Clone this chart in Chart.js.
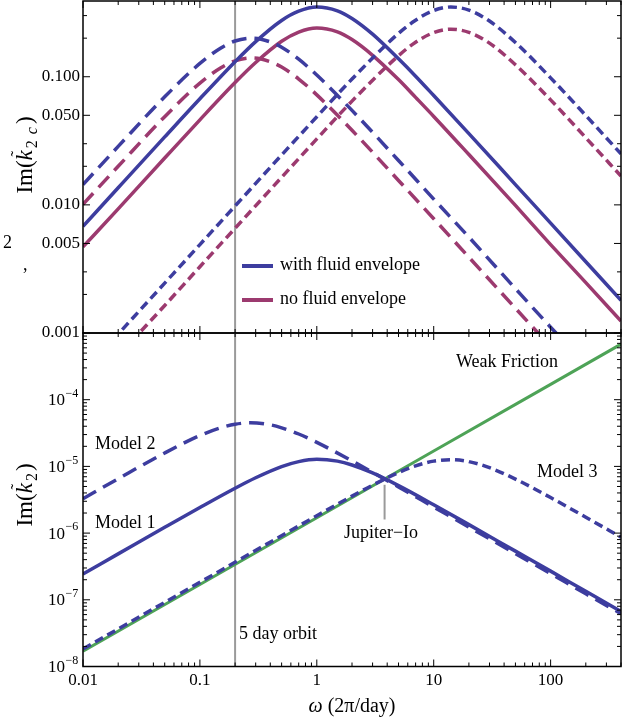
<!DOCTYPE html>
<html><head><meta charset="utf-8">
<script src="https://cdn.jsdelivr.net/npm/chart.js@4.4.1/dist/chart.umd.min.js"></script>
<style>
html,body{margin:0;padding:0;background:#fff;overflow:hidden}
#wrap{position:relative;width:624px;height:719px;background:#fff}
canvas{position:absolute;left:0;top:0}
</style></head><body>
<div id="wrap"><canvas id="cTop" width="624" height="719"></canvas><canvas id="cBot" width="624" height="719"></canvas></div>
<script>
// ---------- data ----------
// top panel: Im(k2c)
const omegaM1 = [0.01,0.02,0.05,0.1,0.2,0.3,0.5,0.7,1,1.5,2,3,5,7,10,20,50,100,200,400];
const topM1Fluid   = [0.0068,0.0136,0.0339,0.0673,0.131,0.188,0.275,0.325,0.350,0.327,0.285,0.215,0.138,0.101,0.0713,0.0360,0.0144,0.0072,0.0036,0.0018];
const topM1NoFluid = [0.0047,0.0093,0.0232,0.0461,0.090,0.129,0.189,0.223,0.240,0.224,0.195,0.147,0.095,0.069,0.049,0.0247,0.0099,0.0049,0.00247,0.00124];

const omegaM2 = [0.01,0.02,0.05,0.1,0.15,0.2,0.28,0.4,0.5,0.7,1,2,5,10,20,50,100,130];
const topM2Fluid   = [0.0144,0.0286,0.0697,0.127,0.167,0.190,0.200,0.187,0.170,0.137,0.103,0.0546,0.0222,0.0111,0.0056,0.00222,0.00111,0.00086];
const topM2NoFluid = [0.0101,0.0200,0.0488,0.0892,0.117,0.133,0.140,0.131,0.119,0.096,0.0722,0.0382,0.0155,0.0078,0.0039,0.00156,0.00078,0.0006];

const omegaM3 = [0.015,0.02,0.05,0.1,0.2,0.5,1,2,5,7,10,14,20,30,50,100,200,400];
const topM3Fluid   = [0.00073,0.00098,0.00245,0.0049,0.0098,0.0245,0.0487,0.096,0.218,0.276,0.329,0.350,0.331,0.272,0.185,0.098,0.0498,0.0250];
const topM3NoFluid = [0.00049,0.00066,0.00164,0.00329,0.00657,0.0164,0.0327,0.0645,0.146,0.186,0.221,0.235,0.222,0.183,0.124,0.066,0.0334,0.0168];

// bottom panel: Im(k2)
const omegaBotM1 = [0.01,0.02,0.05,0.1,0.2,0.3,0.5,0.7,1,1.5,2,3,5,10,20,50,100,200,400];
const botModel1  = [2.44e-7,4.88e-7,1.22e-6,2.42e-6,4.71e-6,6.76e-6,9.94e-6,1.18e-5,1.28e-5,1.20e-5,1.05e-5,7.98e-6,5.15e-6,2.66e-6,1.34e-6,5.37e-7,2.69e-7,1.34e-7,6.7e-8];
const omegaBotM2 = [0.01,0.02,0.05,0.1,0.15,0.2,0.27,0.4,0.5,0.7,1,2,3,5,10,20,50,100,200,400];
const botModel2  = [3.28e-6,6.54e-6,1.59e-5,2.90e-5,3.79e-5,4.29e-5,4.50e-5,4.20e-5,3.79e-5,3.06e-5,2.29e-5,1.21e-5,8.15e-6,4.92e-6,2.46e-6,1.23e-6,4.93e-7,2.47e-7,1.23e-7,6.2e-8];
const omegaBotM3 = [0.01,0.1,1,2,3,5,7,10,14,20,30,50,100,200,400];
const botModel3  = [1.83e-8,1.83e-7,1.82e-6,3.58e-6,5.23e-6,8.07e-6,1.02e-5,1.20e-5,1.26e-5,1.18e-5,9.57e-6,6.46e-6,3.41e-6,1.73e-6,8.7e-7];
const omegaWeak  = [0.01,0.1,1,10,100,400];
const botWeak    = [1.7e-8,1.7e-7,1.7e-6,1.7e-5,1.7e-4,6.8e-4];

// markers
const fiveDayOmega = 0.2;
const ioOmega = 3.8;
const ioRange = [1.6e-6, 5.3e-6];

// ticks
const xMajorTicks = [0.01,0.1,1,10,100];
const xTickLabels = ['0.01','0.1','1','10','100'];
const yTopTicks  = [0.001,0.005,0.01,0.05,0.1];
const yTopLabels = ['0.001','0.005','0.010','0.050','0.100'];
const yTopMinor  = [0.002,0.003,0.02,0.03,0.2,0.3];
const yBotTicks  = [1e-8,1e-7,1e-6,1e-5,1e-4];
const yBotExps   = ['\u22128','\u22127','\u22126','\u22125','\u22124'];

// ---------- styling ----------
const SERIF = '"Liberation Serif","Times New Roman",serif';
Chart.defaults.font.family = SERIF;
Chart.defaults.font.size = 17;
Chart.defaults.color = '#000';
const BLUE='#3d3d9f', MAG='#9c3a6f', GREEN='#4ea357', GRAY='#9a9a9a';
const LONG=[15,8], SHORT=[9,5];

const xMinor=[]; for(let e=-2;e<=2;e++) for(let m=2;m<=9;m++){const v=m*Math.pow(10,e); if(v<=400) xMinor.push(v);}
const yBotMinor=[]; for(let e=-8;e<=-4;e++) for(let m=2;m<=9;m++) yBotMinor.push(m*Math.pow(10,e));

function ser(xs, ys){ return xs.map((x,i)=>({x:x, y:ys[i]})); }
function ds(label, xs, ys, color, dash, w){
  return {label, data: ser(xs,ys), borderColor:color, backgroundColor:color, borderWidth:w||3.5,
    borderDash: dash||[], pointRadius:0, fill:false, clip:0, cubicInterpolationMode:'monotone', borderCapStyle:'butt'};
}
function seg(ctx,x1,y1,x2,y2){ctx.beginPath();ctx.moveTo(x1,y1);ctx.lineTo(x2,y2);ctx.stroke();}

function makeFrame(yMajor, yMinor, isBottom){
  return {
    id:'frame'+(isBottom?'B':'T'),
    beforeDatasetsDraw(chart){
      const {ctx, chartArea:a} = chart; const xs=chart.scales.x, ys=chart.scales.y;
      ctx.save(); ctx.strokeStyle=GRAY; ctx.lineWidth=2;
      const px = xs.getPixelForValue(fiveDayOmega);
      seg(ctx,px,a.top,px,a.bottom);
      if(isBottom){
        const ix = xs.getPixelForValue(ioOmega);
        seg(ctx,ix,ys.getPixelForValue(ioRange[1]),ix,ys.getPixelForValue(ioRange[0]));
      }
      ctx.restore();
    },
    afterDatasetsDraw(chart){
      const {ctx, chartArea:a} = chart; const xs=chart.scales.x, ys=chart.scales.y;
      ctx.save(); ctx.strokeStyle='#000'; ctx.lineWidth=1;
      const xt=(v,L)=>{const p=xs.getPixelForValue(v); seg(ctx,p,a.bottom,p,a.bottom-L); seg(ctx,p,a.top,p,a.top+L);};
      const yt=(v,L)=>{const p=ys.getPixelForValue(v); seg(ctx,a.left,p,a.left+L,p); seg(ctx,a.right,p,a.right-L,p);};
      xMajorTicks.forEach(v=>xt(v,7)); xMinor.forEach(v=>xt(v,4));
      yMajor.forEach(v=>yt(v,7)); yMinor.forEach(v=>yt(v,4));
      ctx.lineWidth=1.5; ctx.strokeRect(a.left,a.top,a.right-a.left,a.bottom-a.top);
      ctx.restore();
    },
    afterDraw(chart){
      const ctx=chart.ctx; ctx.save(); ctx.fillStyle='#000';
      if(!isBottom) drawTopText(chart, ctx); else drawBotText(chart, ctx);
      ctx.restore();
    }
  };
}

function drawYTitle(ctx, cx, cy, pieces){
  ctx.save(); ctx.translate(cx, cy); ctx.rotate(-Math.PI/2);
  ctx.textBaseline='alphabetic'; ctx.textAlign='left'; ctx.fillStyle='#000';
  let total=0; for(const p of pieces){ ctx.font=p.f; total+=ctx.measureText(p.t).width+(p.g||0); }
  let x=-total/2;
  for(const p of pieces){
    ctx.font=p.f; const w=ctx.measureText(p.t).width;
    ctx.fillText(p.t, x, 7+(p.dy||0));
    if(p.tilde){ ctx.font='17px '+SERIF; const tw=ctx.measureText('\u02DC').width; ctx.fillText('\u02DC', x+w/2-tw/2+1.5, -3); }
    x+=w+(p.g||0);
  }
  ctx.restore();
}

function drawTopText(chart, ctx){
  const R='23px '+SERIF, I='italic 23px '+SERIF, S='16px '+SERIF, IS='italic 16px '+SERIF;
  drawYTitle(ctx, 25, 155, [
    {t:'Im(',f:R},{t:'k',f:I,tilde:true,g:2},{t:'2',f:S,dy:5,g:6},{t:'c',f:IS,dy:5,g:3},{t:')',f:R}]);
  // legend
  ctx.lineWidth=4; ctx.strokeStyle=BLUE; seg(ctx,242,266,273,266);
  ctx.strokeStyle=MAG; seg(ctx,242,300,273,300);
  ctx.font='18px '+SERIF; ctx.textAlign='left'; ctx.textBaseline='alphabetic';
  ctx.fillText('with fluid envelope', 280, 270);
  ctx.fillText('no fluid envelope', 280, 304);
  // stray marks at the left margin
  ctx.fillText('2', 3, 248);
  ctx.fillText(',', 23, 270);
}

function drawBotText(chart, ctx){
  const ys=chart.scales.y, a=chart.chartArea;
  const R='23px '+SERIF, I='italic 23px '+SERIF, S='16px '+SERIF;
  drawYTitle(ctx, 25, 495, [{t:'Im(',f:R},{t:'k',f:I,tilde:true,g:2},{t:'2',f:S,dy:5,g:2},{t:')',f:R}]);
  // y tick labels 10^n
  ctx.textBaseline='middle';
  yBotTicks.forEach((v,i)=>{
    const y=ys.getPixelForValue(v);
    ctx.font='17px '+SERIF; ctx.textAlign='right'; ctx.fillText('10', 65, y+1);
    ctx.font='12px '+SERIF; ctx.textAlign='left'; ctx.fillText(yBotExps[i], 65.5, y-6);
  });
  // x title
  ctx.textBaseline='alphabetic';
  const f1='italic 20px '+SERIF, f2='20px '+SERIF;
  ctx.font=f1; const w1=ctx.measureText('\u03C9').width;
  ctx.font=f2; const w2=ctx.measureText(' (2\u03C0/day)').width;
  const x0=(a.left+a.right)/2-(w1+w2)/2;
  ctx.textAlign='left';
  ctx.font=f1; ctx.fillText('\u03C9', x0, 712);
  ctx.font=f2; ctx.fillText(' (2\u03C0/day)', x0+w1, 712);
  // annotations
  ctx.font='18px '+SERIF; ctx.textBaseline='middle'; ctx.textAlign='left';
  ctx.fillText('Weak Friction', 456, 362);
  ctx.fillText('Model 3', 537, 472);
  ctx.fillText('Model 2', 95, 444);
  ctx.fillText('Model 1', 95, 523);
  ctx.fillText('5 day orbit', 239, 634);
  ctx.textAlign='center';
  ctx.fillText('Jupiter\u2212Io', 381, 533);
}

const base = {
  responsive:false, animation:false, devicePixelRatio:1, events:[],
  plugins:{legend:{display:false}, tooltip:{enabled:false}, title:{display:false}},
  elements:{point:{radius:0}}
};

new Chart(document.getElementById('cTop'), {
  type:'line',
  data:{datasets:[
    ds('Model 1, with fluid envelope', omegaM1, topM1Fluid, BLUE),
    ds('Model 2, with fluid envelope', omegaM2, topM2Fluid, BLUE, LONG),
    ds('Model 3, with fluid envelope', omegaM3, topM3Fluid, BLUE, SHORT),
    ds('Model 1, no fluid envelope', omegaM1, topM1NoFluid, MAG),
    ds('Model 2, no fluid envelope', omegaM2, topM2NoFluid, MAG, LONG),
    ds('Model 3, no fluid envelope', omegaM3, topM3NoFluid, MAG, SHORT)
  ]},
  options:Object.assign({}, base, {
    layout:{padding:{left:0,right:3,top:1,bottom:386}},
    scales:{
      x:{type:'logarithmic', min:0.01, max:400, display:false},
      y:{type:'logarithmic', min:0.001, max:0.39,
         grid:{display:false, drawTicks:false}, border:{display:false},
         afterBuildTicks:s=>{ s.ticks = yTopTicks.map(v=>({value:v})); },
         afterFit:s=>{ s.width = 83; s.paddingTop = 0; s.paddingBottom = 0; },
         ticks:{padding:3, autoSkip:false, callback:v=>yTopLabels[yTopTicks.indexOf(v)]}}
    }
  }),
  plugins:[makeFrame(yTopTicks, yTopMinor, false)]
});

new Chart(document.getElementById('cBot'), {
  type:'line',
  data:{datasets:[
    ds('Model 1', omegaBotM1, botModel1, BLUE),
    ds('Model 2', omegaBotM2, botModel2, BLUE, LONG),
    ds('Model 3', omegaBotM3, botModel3, BLUE, SHORT),
    ds('Weak Friction', omegaWeak, botWeak, GREEN, [], 3)
  ]},
  options:Object.assign({}, base, {
    layout:{padding:{left:0,right:3,top:333,bottom:0}},
    scales:{
      x:{type:'logarithmic', min:0.01, max:400,
         grid:{display:false, drawTicks:false}, border:{display:false},
         afterBuildTicks:s=>{ s.ticks = xMajorTicks.map(v=>({value:v})); },
         afterFit:s=>{ s.height = 52.5; s.paddingLeft = 0; s.paddingRight = 0; },
         ticks:{padding:4, maxRotation:0, minRotation:0, autoSkip:false, callback:v=>xTickLabels[xMajorTicks.indexOf(v)]}},
      y:{type:'logarithmic', min:1e-8, max:1e-3,
         grid:{display:false, drawTicks:false}, border:{display:false},
         ticks:{display:false},
         afterFit:s=>{ s.width = 83; s.paddingTop = 0; s.paddingBottom = 0; }}
    }
  }),
  plugins:[makeFrame(yBotTicks, yBotMinor, true)]
});
</script>
</body></html>
